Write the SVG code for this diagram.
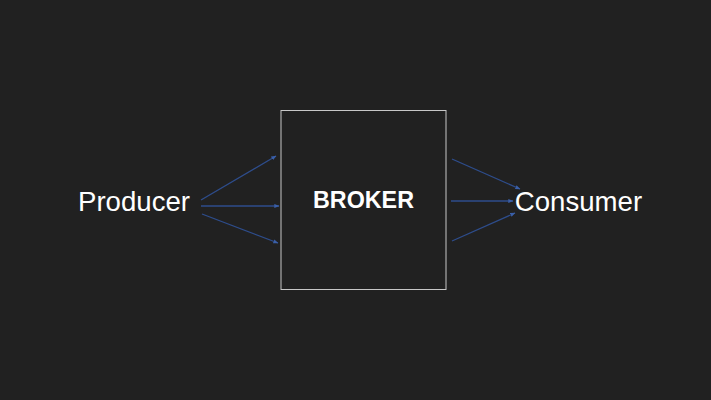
<svg xmlns="http://www.w3.org/2000/svg" width="711" height="400" viewBox="0 0 711 400">
<style>
.lbl{font-family:"Liberation Sans",Arial,sans-serif;fill:#ffffff}
.edge{stroke:#2e4d8c;stroke-width:1.3;fill:none;marker-end:url(#ah)}
</style>
<defs>
<marker id="ah" viewBox="0 0 10 10" refX="9" refY="5" markerWidth="4" markerHeight="4" orient="auto" markerUnits="strokeWidth">
<path d="M0,1 L10,5 L0,9 z" fill="#3a5fa8"/>
</marker>
</defs>
<rect width="711" height="400" fill="#212121"/>
<g id="producer"><text class="lbl" x="134" y="211" font-size="27.6" text-anchor="middle">Producer</text></g>
<g id="broker">
<rect x="281" y="110.5" width="165" height="179" fill="#212121" stroke="#c8c8c8" stroke-width="1"/>
<text class="lbl" x="363.5" y="208" font-size="23.3" font-weight="bold" text-anchor="middle">BROKER</text>
</g>
<g id="consumer"><text class="lbl" x="578.5" y="211" font-size="27.6" text-anchor="middle">Consumer</text></g>
<g id="connectors">
<line class="edge" x1="201" y1="200" x2="276" y2="156"/>
<line class="edge" x1="201" y1="206" x2="279" y2="206"/>
<line class="edge" x1="202" y1="214" x2="278" y2="243"/>
<line class="edge" x1="452" y1="159" x2="520" y2="189"/>
<line class="edge" x1="451" y1="201" x2="513" y2="201"/>
<line class="edge" x1="452" y1="241" x2="515" y2="213"/>
</g>
</svg>
